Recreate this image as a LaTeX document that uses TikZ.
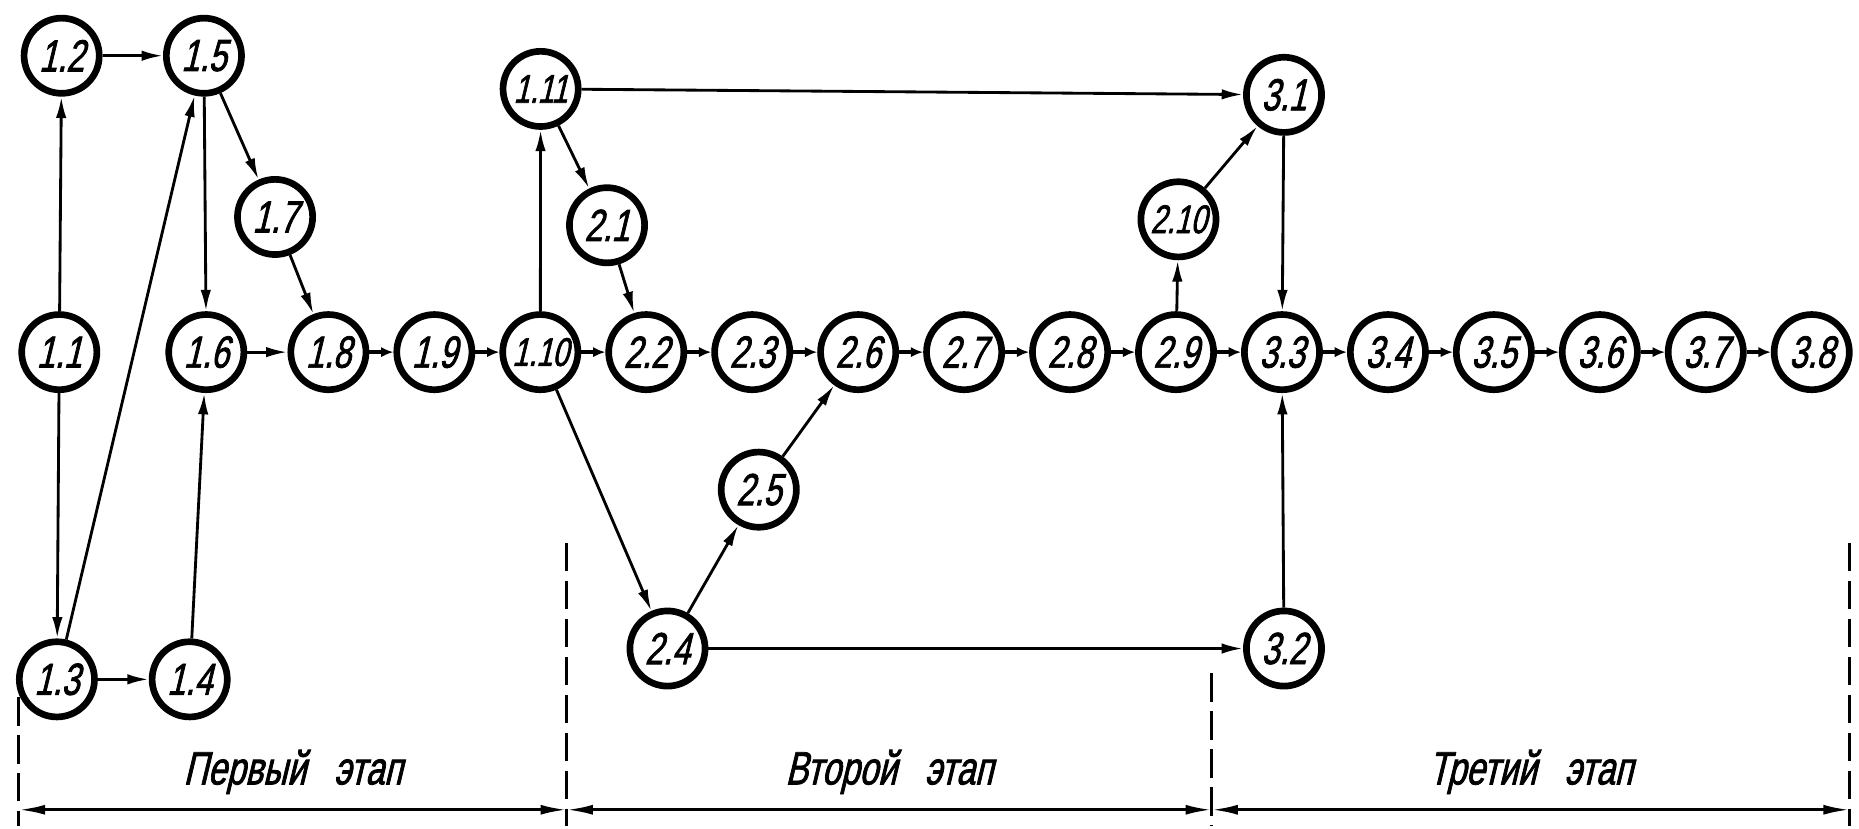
\documentclass[tikz,border=0pt]{standalone}
\usepackage{fontspec}
\newfontfamily\gostfont[FakeStretch=0.72,FakeSlant=0.24,FakeBold=1.6]{Liberation Sans}
\usetikzlibrary{arrows.meta,chains,positioning}
\tikzset{
    >=latex
}

\begin{document}
\begin{tikzpicture}[
    x=0.025cm,y=-0.025cm,
    ev/.style={circle,draw,line width=4pt,minimum size=1.585cm,inner sep=0pt,font=\gostfont\fontsize{27}{27}\selectfont},
    evw/.style={ev,font=\gostfont\fontsize{24}{24}\selectfont},
    arr/.style={-{Latex[length=4.5mm,width=2.2mm]},line width=1.7pt},
    link/.style={-{Latex[length=2.6mm,width=2.2mm]},line width=2.6pt},
    bound/.style={line width=1.8pt,dash pattern=on 6mm off 2mm},
    stage/.style={{Latex[length=5.5mm,width=2.1mm]}-{Latex[length=5.5mm,width=2.1mm]},line width=1.7pt},
    lbl/.style={inner sep=0pt,font=\gostfont\fontsize{28}{28}\selectfont},
    node distance=0.508cm
    ]
    \useasboundingbox (0,0) rectangle (1568,699);

    % main row
    \begin{scope}[start chain=going right]
        \node[ev,on chain] (n18) at (277,297) {1.8};
        \node[ev,on chain] (n19) {1.9};
        \node[evw,on chain] (n110) {1.10};
        \node[ev,on chain] (n22) {2.2};
        \node[ev,on chain] (n23) {2.3};
        \node[ev,on chain] (n26) {2.6};
        \node[ev,on chain] (n27) {2.7};
        \node[ev,on chain] (n28) {2.8};
        \node[ev,on chain] (n29) {2.9};
        \node[ev,on chain] (n33) {3.3};
        \node[ev,on chain] (n34) {3.4};
        \node[ev,on chain] (n35) {3.5};
        \node[ev,on chain] (n36) {3.6};
        \node[ev,on chain] (n37) {3.7};
        \node[ev,on chain] (n38) {3.8};
    \end{scope}

    % first stage
    \node[ev] (n11) at (50,297) {1.1};
    \node[ev] (n12) at (52,47) {1.2};
    \node[ev] (n13) at (48,573) {1.3};
    \node[ev] (n14) at (160,573) {1.4};
    \node[ev] (n15) at (172,47) {1.5};
    \node[ev] (n16) at (174,297) {1.6};
    \node[ev] (n17) at (232,183) {1.7};
    \node[evw] (n111) at (456,75) {1.11};

    % second stage
    \node[ev] (n21) at (512,190) {2.1};
    \node[ev] (n25) at (640,413) {2.5};
    \node[ev] (n24) at (563,547) {2.4};
    \node[evw] (n210) at (994,185) {2.10};

    % third stage
    \node[ev] (n31) at (1083,80) {3.1};
    \node[ev] (n32) at (1083,547) {3.2};

    \foreach \a/\b in {n18/n19,n19/n110,n110/n22,n22/n23,n23/n26,n26/n27,n27/n28,n28/n29,n29/n33,n33/n34,n34/n35,n35/n36,n36/n37,n37/n38}
        \draw[link] (\a) -- (\b);

    \foreach \a/\b in {n11/n12,n11/n13,n12/n15,n13/n14,n13/n15,n14/n16,n15/n16,n15/n17,n17/n18,n16/n18,
                       n110/n111,n111/n21,n21/n22,n111/n31,n110/n24,n24/n25,n25/n26,n24/n32,
                       n29/n210,n210/n31,n31/n33,n32/n33}
        \draw[arr] (\a) -- (\b);

    % stage boundaries
    \coordinate (b0) at (16,683);
    \coordinate (b1) at (478,683);
    \coordinate (b2) at (1022,683);
    \coordinate (b3) at (1560,683);
    \draw[bound] (16,588) -- (16,697);
    \draw[bound] (478,458) -- (478,697);
    \draw[bound] (1022,568) -- (1022,697);
    \draw[bound] (1560,458) -- (1560,697);

    \draw[stage] (b0) -- node[lbl,above=3mm] (st1) {Первый\hspace{0.6em}этап} (b1);
    \draw[stage] (b1) -- node[lbl,above=3mm] (st2) {Второй\hspace{0.6em}этап} (b2);
    \draw[stage] (b2) -- node[lbl,above=3mm] (st3) {Третий\hspace{0.6em}этап} (b3);
\end{tikzpicture}
\end{document}
